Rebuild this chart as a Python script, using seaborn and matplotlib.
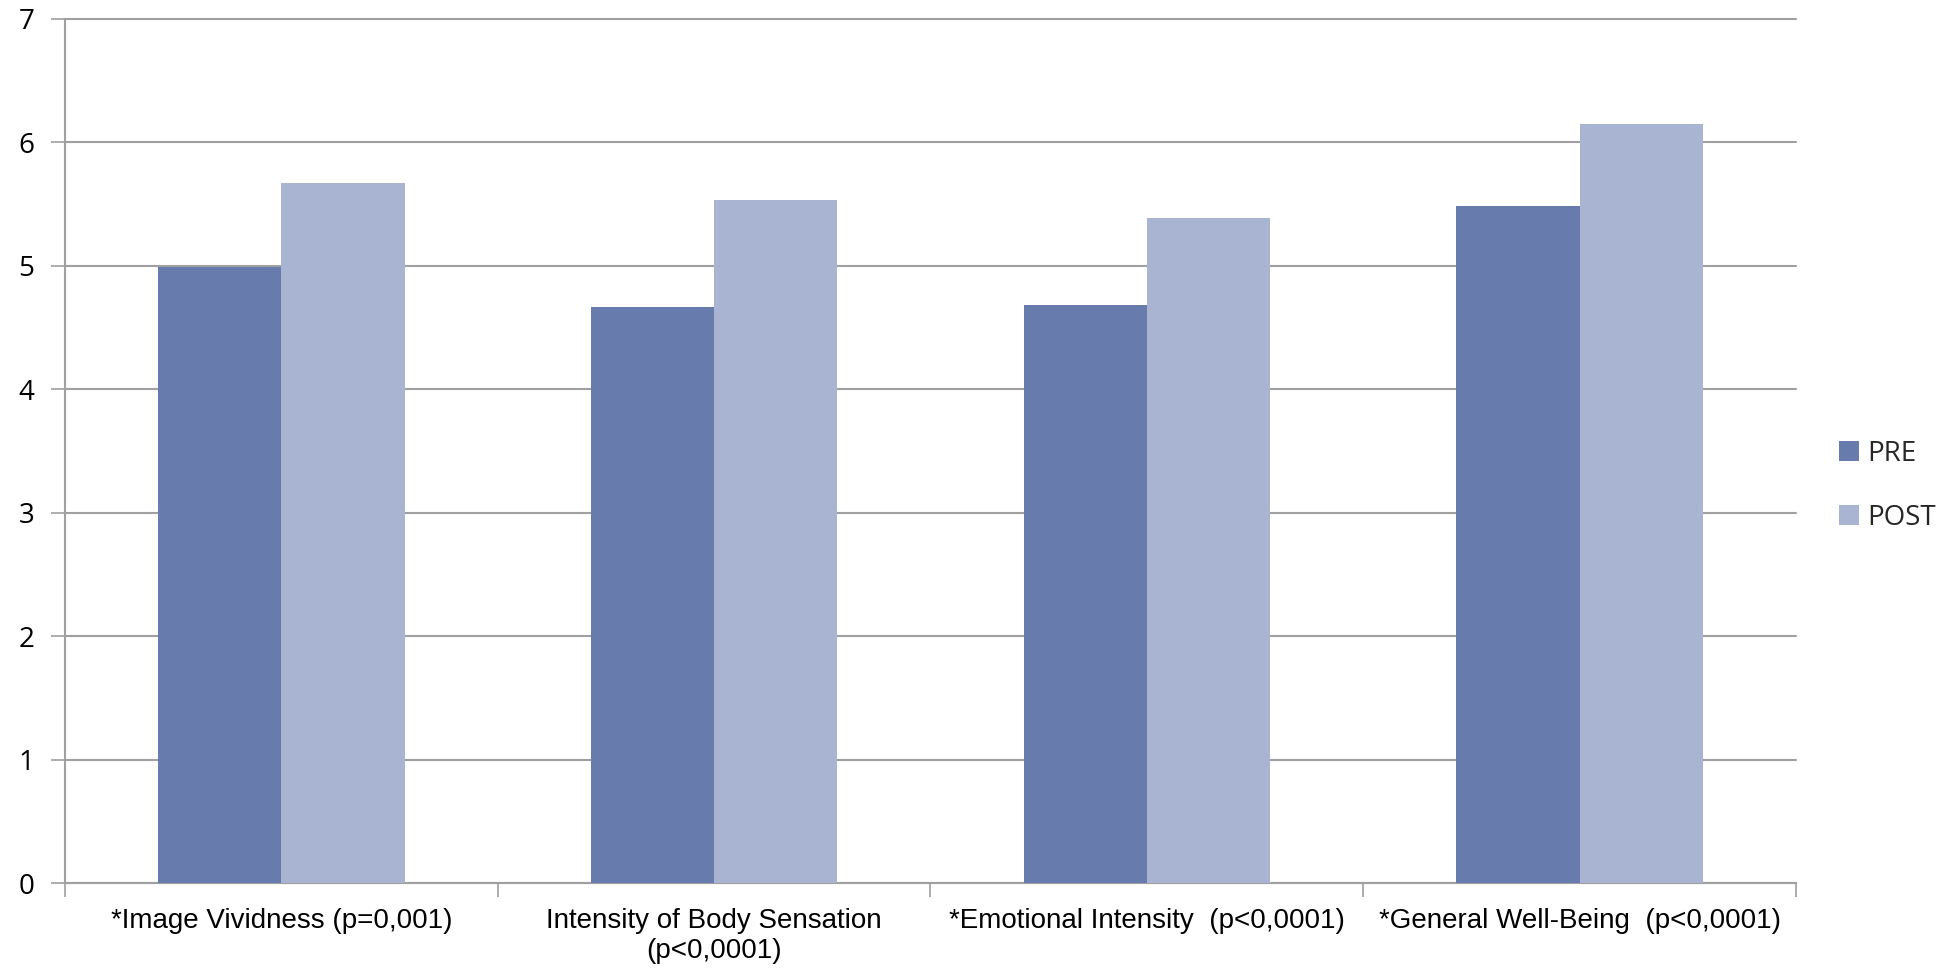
import matplotlib
matplotlib.use("Agg")
import matplotlib.pyplot as plt
import seaborn as sns
import pandas as pd
from matplotlib.ticker import FixedLocator

categories = [
    "*Image Vividness (p=0,001)",
    "Intensity of Body Sensation\n(p<0,0001)",
    "*Emotional Intensity  (p<0,0001)",
    "*General Well-Being  (p<0,0001)",
]
pre_values = [4.99, 4.67, 4.68, 5.48]
post_values = [5.67, 5.53, 5.39, 6.15]
series_names = ["PRE", "POST"]
y_ticks = [0, 1, 2, 3, 4, 5, 6, 7]

colors = ["#677cad", "#a9b4d2"]
grid_color = "#a0a0a0"

df = pd.DataFrame({
    "category": categories * 2,
    "value": pre_values + post_values,
    "series": [series_names[0]] * len(categories) + [series_names[1]] * len(categories),
})

sns.set_theme(style="white")
plt.rcParams["font.family"] = ["Liberation Sans Narrow", "Liberation Sans", "DejaVu Sans"]

fig = plt.figure(figsize=(19.54, 9.68), dpi=100)
ax = fig.add_axes([0.0333, 0.0874, 0.8858, 0.8933])

sns.barplot(data=df, x="category", y="value", hue="series", order=categories,
            hue_order=series_names, palette=colors, width=0.57, saturation=1,
            edgecolor="none", linewidth=0, ax=ax, zorder=3)

ax.set_ylim(0, 7)
ax.set_xlim(-0.5, len(categories) - 0.5)
ax.set_yticks(y_ticks)
ax.set_yticklabels([str(t) for t in y_ticks], fontsize=20, color="black",
                   family=["Open Sans", "DejaVu Sans"])
ax.yaxis.grid(True, color=grid_color, linewidth=1.5, zorder=0)
for gl in ax.get_ygridlines():
    gl.set_clip_on(False)
ax.set_axisbelow(True)

ax.set_xlabel("")
ax.set_ylabel("")
ax.set_xticks(range(len(categories)))
ax.set_xticklabels(categories, fontsize=20, color="black")
ax.xaxis.set_minor_locator(FixedLocator([i - 0.5 for i in range(len(categories) + 1)]))
ax.tick_params(axis="x", which="major", length=0, pad=18)
ax.tick_params(axis="x", which="minor", length=10, width=1.2, color=grid_color, direction="out", bottom=True)
ax.tick_params(axis="y", length=10, width=1.2, color=grid_color, direction="out", left=True, pad=12)

for side in ["top", "right"]:
    ax.spines[side].set_visible(False)
for side in ["left", "bottom"]:
    ax.spines[side].set_color(grid_color)
    ax.spines[side].set_linewidth(1.5)

leg = ax.legend(loc="center left", bbox_to_anchor=(1.025, 0.46), frameon=False,
                handlelength=0.7, handleheight=0.7, handletextpad=0.3,
                labelspacing=1.3, borderpad=0, borderaxespad=0,
                prop={"family": ["Open Sans", "DejaVu Sans"], "size": 20})

fig.savefig("out.png", dpi=100, facecolor="white")
